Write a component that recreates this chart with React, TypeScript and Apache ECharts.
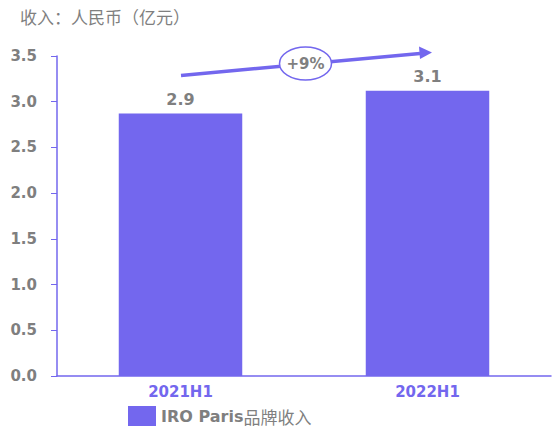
import React, { useEffect, useRef } from "react";
import * as echarts from "echarts";

const categories = ["2021H1", "2022H1"];
const revenue = [2.87, 3.12];
const seriesName = "IRO Paris品牌收入";
const yTicks = { min: 0, max: 3.5, interval: 0.5 };
const growthLabel = "+9%";
const unitTitle = "收入：人民币（亿元）";

const PURPLE = "#7367EE";
const GRAY = "#7F7F7F";
const FONT = "'DejaVu Sans', 'Noto Sans CJK SC', sans-serif";

export default function App() {
  const ref = useRef<HTMLDivElement>(null);
  useEffect(() => {
    document.body.style.margin = "0";
    const chart = echarts.init(ref.current!, null, { renderer: "svg" });
    chart.setOption({
      animation: false,
      textStyle: { fontFamily: FONT },
      grid: { left: 57, right: 1, top: 56, bottom: 54 },
      legend: {
        data: [{ name: seriesName, icon: "rect" }],
        left: 126,
        top: 404,
        padding: 2,
        itemWidth: 28,
        itemHeight: 20,
        itemGap: 8,
        formatter: () => "{b|IRO Paris}{c|品牌收入}",
        textStyle: {
          color: GRAY,
          fontSize: 16,
          lineHeight: 20,
          fontFamily: FONT,
          rich: {
            b: { color: GRAY, fontSize: 16, lineHeight: 20, fontWeight: "bold", fontFamily: FONT },
            c: { color: GRAY, fontSize: 17, lineHeight: 20, fontFamily: "'Noto Sans CJK SC', sans-serif" },
          },
        },
      },
      xAxis: {
        type: "category",
        data: categories,
        axisLine: { lineStyle: { color: PURPLE, width: 1.5 } },
        axisTick: { show: false },
        axisLabel: { color: PURPLE, fontSize: 15, fontWeight: "bold", margin: 8 },
      },
      yAxis: {
        type: "value",
        min: yTicks.min,
        max: yTicks.max,
        interval: yTicks.interval,
        axisLine: { show: true, lineStyle: { color: PURPLE, width: 1.5 } },
        axisTick: { show: true, length: 6, lineStyle: { color: PURPLE } },
        splitLine: { show: false },
        axisLabel: {
          color: GRAY,
          fontSize: 15,
          fontWeight: "bold",
          margin: 20,
          formatter: (v: number) => v.toFixed(1),
        },
      },
      series: [
        {
          name: seriesName,
          type: "bar",
          data: revenue,
          barWidth: "50%",
          itemStyle: { color: PURPLE },
          label: {
            show: true,
            position: "top",
            distance: 6,
            color: GRAY,
            fontSize: 16,
            fontWeight: "bold",
            formatter: (p: any) => Number(p.value).toFixed(1),
          },
        },
      ],
      graphic: [
        {
          type: "text",
          left: 20,
          top: 8,
          style: { text: unitTitle, fill: GRAY, fontSize: 17, fontFamily: "'Noto Sans CJK SC', sans-serif" },
        },
        {
          type: "line",
          shape: { x1: 181, y1: 75.5, x2: 420, y2: 53.5 },
          style: { stroke: PURPLE, lineWidth: 3.5 },
        },
        {
          type: "polygon",
          shape: { points: [[432, 52.5], [419, 46.5], [420, 59]] },
          style: { fill: PURPLE },
        },
        {
          type: "ellipse",
          shape: { cx: 305.5, cy: 63.5, rx: 26, ry: 16.5 },
          style: { fill: "#fff", stroke: PURPLE, lineWidth: 1.5 },
        },
        {
          type: "text",
          x: 305.5,
          y: 63.5,
          style: {
            text: growthLabel,
            fill: GRAY,
            fontSize: 15,
            fontWeight: "bold",
            fontFamily: FONT,
            align: "center",
            verticalAlign: "middle",
          },
        },
      ],
    });
    return () => chart.dispose();
  }, []);
  return <div ref={ref} style={{ width: 552, height: 430 }} />;
}
